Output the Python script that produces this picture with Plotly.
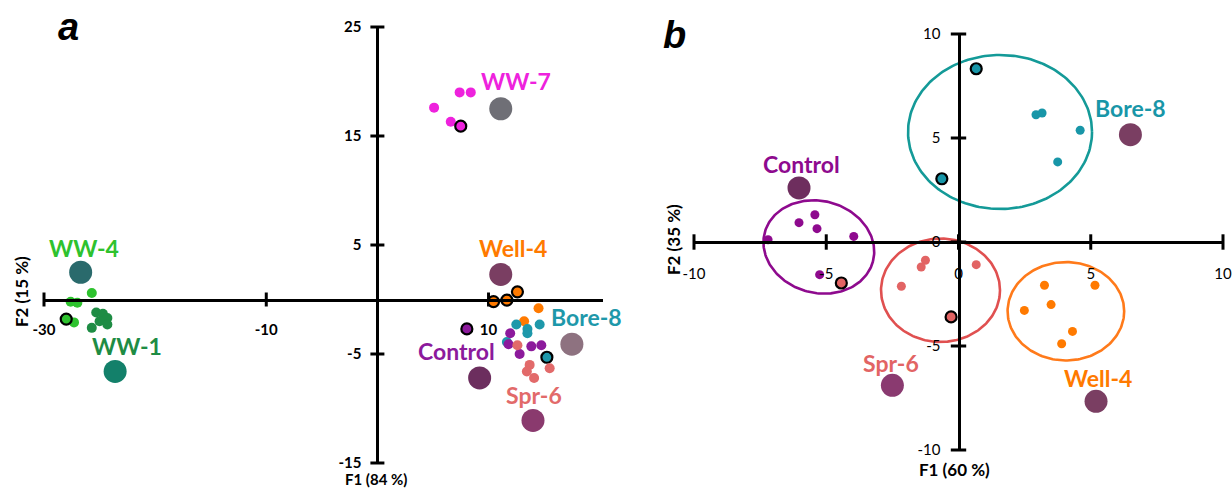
import numpy as np
import plotly.graph_objects as go

W, H = 1232, 488

# ---------------- Panel a data ----------------
A_GROUPS = ["WW-7", "WW-4", "WW-1", "Well-4", "Bore-8", "Control", "Spr-6"]
A_COLORS = ["#ee22dd", "#2ec22e", "#1e8c44", "#ff7a00", "#1e98aa", "#8c1a9c", "#e26a6a"]
A_PTS_X = [[5.1, 7.4, 8.4, 6.6],
           [-25.7, -27.6, -27.0, -27.3],
           [-25.3, -24.7, -24.3, -25.0, -25.7, -24.3],
           [14.5, 13.2],
           [12.5, 13.5, 13.5, 14.6, 11.65],
           [11.95, 11.8, 12.8, 13.85, 14.75],
           [12.6, 13.7, 13.45, 14.1, 15.5]]
A_PTS_Y = [[17.6, 19.0, 19.0, 16.3],
           [0.6, -0.2, -0.3, -2.1],
           [-1.2, -1.3, -1.7, -2.0, -2.6, -2.3],
           [-0.8, -2.0],
           [-2.3, -2.7, -3.1, -2.3, -3.9],
           [-3.1, -4.1, -5.0, -4.3, -4.2],
           [-4.2, -6.0, -6.6, -7.2, -6.3]]
A_RING_X = [[7.5], [-28.0], [], [10.45, 11.65, 12.6], [15.25], [8.05], []]
A_RING_Y = [[15.9], [-1.8], [], [-0.2, -0.05, 0.7], [-5.3], [-2.7], []]
A_BIG_X = [11.1, -26.7, -23.6, 11.1, 17.5, 9.2, 14.0]
A_BIG_Y = [17.5, 2.5, -6.6, 2.3, -4.1, -7.2, -11.1]
A_BIG_COLORS = ["#6f6f76", "#2a6a6c", "#13806a", "#7a3e62", "#8e7280", "#6c2e5e", "#8a3a6e"]
A_LAB_X = [12.5, -26.4, -22.5, 12.2, 18.8, 7.1, 14.1]
A_LAB_Y = [20.0, 4.7, -4.3, 4.7, -1.6, -4.7, -8.8]
A_XTICKS = [-30, -10, 10]
A_YTICKS = [25, 15, 5, -5, -15]
A_XRANGE = [-30, 20.3]
A_YRANGE = [-15, 25]

# ---------------- Panel b data ----------------
B_GROUPS = ["Bore-8", "Control", "Spr-6", "Well-4"]
B_COLORS = ["#1896a8", "#8e0a8e", "#e26464", "#ff7a00"]
B_PTS_X = [[2.93, 3.16, 4.6, 3.75],
           [-7.2, -6.03, -5.43, -5.35, -3.96, -5.25],
           [-1.25, -1.41, -2.16, 0.67],
           [3.25, 5.16, 2.49, 3.5, 4.31, 3.9]]
B_PTS_Y = [[6.12, 6.2, 5.37, 3.85],
           [0.11, 0.93, 1.31, 0.64, 0.27, -1.57],
           [-0.88, -1.2, -2.13, -1.09],
           [-2.08, -2.08, -3.29, -3.01, -4.3, -4.89]]
B_RING_X = [[0.67, -0.63], [], [-4.43, -0.28], []]
B_RING_Y = [[8.33, 3.04], [], [-1.97, -3.6], []]
B_BIG_X = [6.5, -6.03, -2.5, 5.2]
B_BIG_Y = [5.16, 2.6, -6.89, -7.66]
B_BIG_COLORS = ["#7a3e62", "#6e2e5e", "#8a3a70", "#7a3e62"]
B_LAB_X = [6.5, -5.94, -2.54, 5.26]
B_LAB_Y = [6.44, 3.77, -5.8, -6.54]
# ellipses: centre (data), semi-axes (px), rotation (deg)
B_ELL_CX = [1.57, -5.28, -0.68, 4.06]
B_ELL_CY = [5.29, -0.24, -2.32, -3.33]
B_ELL_A = [92, 56, 59.5, 58.3]
B_ELL_B = [77, 46, 51.7, 49.2]
B_ELL_ROT = [0, -15, 0, 0]
B_ELL_COLORS = ["#149a98", "#8e0a8e", "#e05050", "#ff7a1a"]
B_XTICKS = [-10, -5, 0, 5, 10]
B_YTICKS = [10, 5, 0, -5, -10]
B_XRANGE = [-10, 10]
B_YRANGE = [-10, 10]

# ---------------- layout geometry ----------------
A_XDOM = [44 / W, 603 / W]
A_YDOM = [(H - 463) / H, (H - 27) / H]
B_XDOM = [694 / W, 1223 / W]
B_YDOM = [(H - 450) / H, (H - 34) / H]


def zero_pos(dom, rng):
    return dom[0] + (0 - rng[0]) / (rng[1] - rng[0]) * (dom[1] - dom[0])


fig = go.Figure()
LAB_FONT = "Lato"


def add_points(xs, ys, color, size, xa, ya, ring=False):
    if not xs:
        return
    fig.add_trace(go.Scatter(
        x=xs, y=ys, mode="markers", xaxis=xa, yaxis=ya, cliponaxis=False,
        marker=dict(color=color, size=size,
                    line=dict(color="black", width=2.2 if ring else 0)),
        showlegend=False, hoverinfo="skip"))


# panel b ellipses first
sx = (B_XDOM[1] - B_XDOM[0]) * W / (B_XRANGE[1] - B_XRANGE[0])
sy = (B_YDOM[1] - B_YDOM[0]) * H / (B_YRANGE[1] - B_YRANGE[0])
t = np.linspace(0, 2 * np.pi, 200)
for cx, cy, a, b, rot, col in zip(B_ELL_CX, B_ELL_CY, B_ELL_A, B_ELL_B, B_ELL_ROT, B_ELL_COLORS):
    th = np.radians(rot)
    px = a * np.cos(t) * np.cos(th) - b * np.sin(t) * np.sin(th)
    py = a * np.cos(t) * np.sin(th) + b * np.sin(t) * np.cos(th)
    fig.add_trace(go.Scatter(x=cx + px / sx, y=cy + py / sy, mode="lines", xaxis="x2", yaxis="y2",
                             line=dict(color=col, width=2.6), showlegend=False,
                             hoverinfo="skip", cliponaxis=False))

# tick marks (crossing)
fig.add_trace(go.Scatter(x=A_XTICKS, y=[0] * len(A_XTICKS), mode="markers", xaxis="x", yaxis="y",
                         marker=dict(symbol="line-ns", size=10, line=dict(color="black", width=3)),
                         showlegend=False, hoverinfo="skip", cliponaxis=False))
fig.add_trace(go.Scatter(x=[0] * len(A_YTICKS), y=A_YTICKS, mode="markers", xaxis="x", yaxis="y",
                         marker=dict(symbol="line-ew", size=10, line=dict(color="black", width=3)),
                         showlegend=False, hoverinfo="skip", cliponaxis=False))
fig.add_trace(go.Scatter(x=B_XTICKS, y=[0] * len(B_XTICKS), mode="markers", xaxis="x2", yaxis="y2",
                         marker=dict(symbol="line-ns", size=11, line=dict(color="black", width=3)),
                         showlegend=False, hoverinfo="skip", cliponaxis=False))
fig.add_trace(go.Scatter(x=[0] * len(B_YTICKS), y=B_YTICKS, mode="markers", xaxis="x2", yaxis="y2",
                         marker=dict(symbol="line-ew", size=11, line=dict(color="black", width=3)),
                         showlegend=False, hoverinfo="skip", cliponaxis=False))

# panel a points
for i, g in enumerate(A_GROUPS):
    add_points(A_PTS_X[i], A_PTS_Y[i], A_COLORS[i], 10, "x", "y")
    add_points(A_RING_X[i], A_RING_Y[i], A_COLORS[i], 11, "x", "y", ring=True)
    add_points([A_BIG_X[i]], [A_BIG_Y[i]], A_BIG_COLORS[i], 23, "x", "y")
# panel b points
for i, g in enumerate(B_GROUPS):
    add_points(B_PTS_X[i], B_PTS_Y[i], B_COLORS[i], 9, "x2", "y2")
    add_points(B_RING_X[i], B_RING_Y[i], B_COLORS[i], 11, "x2", "y2", ring=True)
    add_points([B_BIG_X[i]], [B_BIG_Y[i]], B_BIG_COLORS[i], 23, "x2", "y2")

annotations = []
for i, g in enumerate(A_GROUPS):
    annotations.append(dict(x=A_LAB_X[i], y=A_LAB_Y[i], xref="x", yref="y", text=g, showarrow=False,
                            xanchor="center", yanchor="middle",
                            font=dict(family=LAB_FONT, size=23, color=A_COLORS[i], weight="bold")))
for i, g in enumerate(B_GROUPS):
    annotations.append(dict(x=B_LAB_X[i], y=B_LAB_Y[i], xref="x2", yref="y2", text=g, showarrow=False,
                            xanchor="center", yanchor="middle",
                            font=dict(family=LAB_FONT, size=23, color=B_COLORS[i], weight="bold")))

TITLE_FONT = dict(family=LAB_FONT, size=17, color="black", weight="bold")
BOTTOM_TITLE_FONT = dict(family=LAB_FONT, size=15, color="black", weight="bold")
paper_texts = [
    ("F1 (84 %)", 376, 478.5, 0, BOTTOM_TITLE_FONT),
    ("F2 (15 %)", 21, 292, -90, TITLE_FONT),
    ("F1 (60 %)", 954, 469, 0, TITLE_FONT),
    ("F2 (35 %)", 673, 240, -90, TITLE_FONT),
    ("<b><i>a</i></b>", 68, 27, 0, dict(family="Liberation Sans", size=38, color="black")),
    ("<b><i>b</i></b>", 674, 35, 0, dict(family="Liberation Sans", size=38, color="black")),
]
for txt, px_, py_, ang, fnt in paper_texts:
    annotations.append(dict(x=px_ / W, y=(H - py_) / H, xref="paper", yref="paper", text=txt,
                            showarrow=False, textangle=ang, xanchor="center", yanchor="middle",
                            font=fnt))

A_TICKFONT = dict(family=LAB_FONT, size=15, color="black", weight="bold")
B_TICKFONT = dict(family=LAB_FONT, size=15, color="black")

common = dict(showgrid=False, zeroline=False, showline=True, linecolor="black", linewidth=3,
              ticks="", anchor="free", automargin=False, fixedrange=True)

fig.update_layout(
    width=W, height=H, margin=dict(l=0, r=0, t=0, b=0, autoexpand=False),
    paper_bgcolor="white", plot_bgcolor="rgba(0,0,0,0)",
    showlegend=False,
    xaxis=dict(**common, domain=A_XDOM, range=A_XRANGE, position=zero_pos(A_YDOM, A_YRANGE),
               tickvals=A_XTICKS, ticktext=[str(v) for v in A_XTICKS], tickfont=A_TICKFONT,
               ticklabelstandoff=15),
    yaxis=dict(**common, domain=A_YDOM, range=A_YRANGE, position=zero_pos(A_XDOM, A_XRANGE),
               tickvals=A_YTICKS, ticktext=[str(v) for v in A_YTICKS], tickfont=A_TICKFONT,
               ticklabelstandoff=12),
    xaxis2=dict(**common, domain=B_XDOM, range=B_XRANGE, position=zero_pos(B_YDOM, B_YRANGE),
                tickvals=B_XTICKS, ticktext=[str(v) for v in B_XTICKS], tickfont=B_TICKFONT,
                ticklabelstandoff=17),
    yaxis2=dict(**common, domain=B_YDOM, range=B_YRANGE, position=zero_pos(B_XDOM, B_XRANGE),
                tickvals=B_YTICKS, ticktext=[str(v) for v in B_YTICKS], tickfont=B_TICKFONT,
                ticklabelstandoff=14),
    annotations=annotations,
)

fig.write_html("out.html", config={"displayModeBar": False},
               post_script="document.body.style.margin='0';document.body.style.overflow='hidden';")
